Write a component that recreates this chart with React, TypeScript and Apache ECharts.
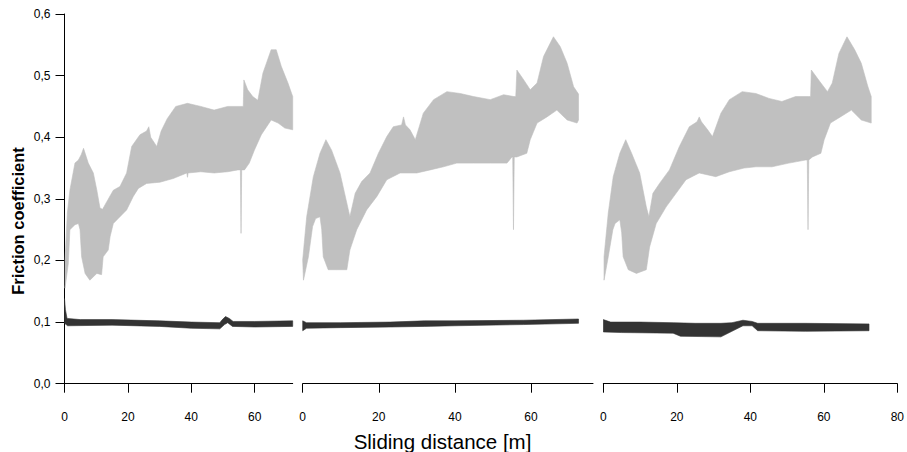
import React, { useEffect, useRef } from "react";
import * as echarts from "echarts";

const FONT = '"Liberation Sans", Arial, Helvetica, sans-serif';

// Axis ticks
const yTickValues = [0, 0.1, 0.2, 0.3, 0.4, 0.5, 0.6];
const xTicksP1 = [0, 20, 40, 60];
const xTicksP2 = [0, 20, 40, 60];
const xTicksP3 = [0, 20, 40, 60, 80];
const xMaxes = [72, 76.3, 80];

// Panel 1 – light grey band (upper / lower envelope)  [m, mu]
const grayUpper1 = [
  [0.16, 0.2], [0.9, 0.277], [1.7, 0.314], [3.3, 0.358], [4.4, 0.363], [5.3, 0.372], [6.0, 0.382],
  [7.5, 0.358], [9.1, 0.342], [10.2, 0.314], [11.2, 0.285], [12.0, 0.283], [13.3, 0.295], [15.4, 0.314],
  [17.5, 0.32], [19.6, 0.342], [21.2, 0.385], [23.8, 0.404], [25.9, 0.41], [26.6, 0.417], [27.2, 0.4],
  [29.1, 0.385], [30.5, 0.41], [32.4, 0.43], [35.1, 0.45], [38.8, 0.455], [43.0, 0.45], [47.2, 0.444],
  [51.5, 0.45], [55.7, 0.45], [56.4, 0.45], [56.6, 0.493], [57.8, 0.477], [59.4, 0.466], [61.0, 0.46],
  [62.6, 0.504], [65.2, 0.542], [66.8, 0.542], [68.4, 0.515], [70.5, 0.488], [72.0, 0.466],
];
const grayLower1 = [
  [0.16, 0.155], [1.2, 0.195], [1.7, 0.25], [3.3, 0.258], [4.4, 0.26], [4.9, 0.25], [5.4, 0.206],
  [6.5, 0.179], [8.0, 0.168], [10.2, 0.179], [11.7, 0.177], [12.2, 0.206], [13.8, 0.217], [14.4, 0.239],
  [15.4, 0.26], [17.5, 0.271], [19.6, 0.282], [21.7, 0.304], [23.3, 0.317], [25.9, 0.325], [30.1, 0.327],
  [34.3, 0.333], [38.6, 0.342], [38.8, 0.335], [39.0, 0.342], [43.0, 0.344], [47.2, 0.342], [51.5, 0.344],
  [54.7, 0.347], [55.5, 0.347], [55.7, 0.244], [55.9, 0.347], [56.8, 0.347], [58.3, 0.358], [59.9, 0.379],
  [62.1, 0.404], [65.2, 0.428], [67.4, 0.423], [69.5, 0.415], [72.0, 0.412],
];

// Panel 2 – light grey band
const grayUpper2 = [
  [0, 0.201], [1.05, 0.271], [2.8, 0.336], [4.55, 0.374], [6.1, 0.396], [7.6, 0.379], [9.8, 0.342],
  [11.6, 0.293], [12.4, 0.271], [13.8, 0.309], [15.5, 0.328], [17.7, 0.342], [19.9, 0.374], [22.1, 0.401],
  [23.8, 0.417], [26.0, 0.42], [26.5, 0.433], [27.0, 0.42], [28.2, 0.412], [29.6, 0.396], [31.7, 0.439],
  [34.4, 0.461], [37.9, 0.474], [41.4, 0.471], [44.9, 0.466], [49.3, 0.461], [52.8, 0.469], [55.5, 0.466],
  [56.0, 0.466], [56.3, 0.509], [58.1, 0.493], [59.8, 0.477], [61.6, 0.488], [63.3, 0.531], [65.9, 0.563],
  [67.7, 0.547], [69.5, 0.52], [71.2, 0.482], [72.5, 0.47],
];
const grayLower2 = [
  [0.2, 0.168], [1.5, 0.206], [2.6, 0.255], [3.4, 0.268], [4.55, 0.271], [5.0, 0.25], [5.4, 0.206],
  [6.7, 0.185], [8.9, 0.185], [11.6, 0.185], [12.4, 0.217], [14.2, 0.25], [16.8, 0.282], [19.5, 0.304],
  [22.1, 0.331], [25.6, 0.342], [30.0, 0.342], [33.5, 0.347], [37.0, 0.352], [40.5, 0.358], [44.9, 0.358],
  [49.3, 0.358], [53.7, 0.358], [55.0, 0.368], [55.2, 0.368], [55.4, 0.25], [55.6, 0.368], [56.3, 0.368],
  [58.9, 0.374], [59.8, 0.396], [61.6, 0.423], [64.2, 0.433], [66.8, 0.444], [69.5, 0.428], [72.1, 0.423],
  [72.5, 0.428],
];

// Panel 3 – light grey band
const grayUpper3 = [
  [0.2, 0.206], [1.35, 0.277], [2.7, 0.336], [4.5, 0.374], [6.1, 0.396], [7.7, 0.374], [9.9, 0.342],
  [11.7, 0.287], [12.4, 0.271], [13.5, 0.309], [15.3, 0.325], [18.0, 0.347], [20.7, 0.385], [23.4, 0.417],
  [25.5, 0.425], [26.1, 0.433], [26.7, 0.425], [28.4, 0.412], [29.7, 0.401], [32.0, 0.439], [34.3, 0.461],
  [37.8, 0.474], [41.5, 0.471], [45.1, 0.463], [48.6, 0.458], [52.3, 0.466], [55.9, 0.466], [56.4, 0.466],
  [56.6, 0.509], [59.2, 0.488], [61.0, 0.474], [62.3, 0.488], [64.1, 0.536], [66.3, 0.563], [68.4, 0.542],
  [70.2, 0.52], [72.0, 0.482], [72.9, 0.466],
];
const grayLower3 = [
  [0.2, 0.168], [1.35, 0.206], [2.6, 0.25], [3.2, 0.26], [4.5, 0.266], [5.0, 0.245], [5.4, 0.206],
  [6.8, 0.185], [9.0, 0.179], [11.7, 0.185], [12.6, 0.222], [14.4, 0.26], [17.1, 0.287], [19.8, 0.309],
  [22.5, 0.331], [26.1, 0.342], [30.6, 0.336], [34.3, 0.344], [38.3, 0.35], [41.5, 0.352], [45.9, 0.352],
  [50.5, 0.358], [55.0, 0.363], [55.5, 0.363], [55.7, 0.25], [55.9, 0.363], [56.9, 0.368], [59.2, 0.374],
  [60.1, 0.396], [61.8, 0.423], [64.5, 0.433], [67.5, 0.444], [70.2, 0.428], [72.9, 0.423],
];

// Dark bands (lubricated curves)
const darkUpper1 = [
  [0, 0.138], [0.3, 0.12], [0.8, 0.106], [5, 0.104], [15, 0.104], [30, 0.102], [40, 0.1], [49, 0.099],
  [49.8, 0.104], [50.8, 0.109], [52, 0.106], [53.2, 0.101], [60, 0.101], [72, 0.102],
];
const darkLower1 = [
  [0, 0.098], [1, 0.094], [15, 0.095], [30, 0.093], [40, 0.09], [49, 0.089], [50.5, 0.096], [51.5, 0.099],
  [53, 0.093], [60, 0.092], [72, 0.093],
];
const darkUpper2 = [
  [0, 0.102], [1, 0.099], [10, 0.099], [23, 0.1], [32, 0.102], [40, 0.102], [58, 0.103], [72.5, 0.105],
];
const darkLower2 = [
  [0, 0.086], [1, 0.09], [10, 0.091], [23, 0.092], [32, 0.093], [40, 0.094], [58, 0.096], [72.5, 0.098],
];
const darkUpper3 = [
  [0, 0.104], [2, 0.1], [10, 0.1], [19, 0.099], [25, 0.098], [32, 0.098], [35, 0.099], [38, 0.103],
  [40.5, 0.101], [42, 0.098], [55, 0.098], [72.3, 0.097],
];
const darkLower3 = [
  [0, 0.084], [5, 0.083], [19, 0.082], [21, 0.077], [32, 0.076], [35, 0.085], [38, 0.094], [40.5, 0.094],
  [42, 0.086], [55, 0.085], [72.3, 0.086],
];

const GRAY = "#c0c0c0";
const DARK = "#333333";

function band(gridIndex: number, upper: number[][], lower: number[][], color: string, z: number) {
  return {
    type: "custom",
    coordinateSystem: "cartesian2d",
    xAxisIndex: gridIndex,
    yAxisIndex: gridIndex,
    clip: true,
    silent: true,
    z,
    data: [[0, 0]],
    renderItem: (_params: any, api: any) => {
      const pts = upper
        .map((p) => api.coord(p))
        .concat(lower.slice().reverse().map((p) => api.coord(p)));
      return {
        type: "polygon",
        shape: { points: pts },
        style: { fill: color, stroke: color, lineWidth: 0.6 },
      };
    },
  };
}

export default function App() {
  const ref = useRef<HTMLDivElement>(null);
  useEffect(() => {
    if (!ref.current) return;
    const chart = echarts.init(ref.current, null, { renderer: "svg" });
    const gridTop = 14;
    const gridH = 369.7;
    const grids = [
      { left: 64.5, top: gridTop, width: 228.2, height: gridH },
      { left: 302.7, top: gridTop, width: 290.3, height: gridH },
      { left: 603.3, top: gridTop, width: 296, height: gridH },
    ];
    const xTickSets = [xTicksP1, xTicksP2, xTicksP3];
    const xAxes = grids.map((_, i) => ({
      type: "value",
      gridIndex: i,
      min: 0,
      max: xMaxes[i],
      axisLine: { show: true, onZero: false, lineStyle: { color: "#000", width: 1 } },
      axisTick: { show: true, inside: false, length: 9, customValues: xTickSets[i], lineStyle: { color: "#000", width: 1 } },
      axisLabel: { customValues: xTickSets[i], margin: 27, fontSize: 12, color: "#000", fontFamily: FONT },
      splitLine: { show: false },
    }));
    const yAxes = grids.map((_, i) =>
      i === 0
        ? {
            type: "value",
            gridIndex: 0,
            min: 0,
            max: 0.6,
            interval: 0.1,
            axisLine: { show: true, lineStyle: { color: "#000", width: 1 } },
            axisTick: { show: true, inside: false, length: 9, customValues: yTickValues, lineStyle: { color: "#000", width: 1 } },
            axisLabel: {
              customValues: yTickValues,
              margin: 14,
              fontSize: 12,
              color: "#000",
              fontFamily: FONT,
              formatter: (v: number) => v.toFixed(1).replace(".", ","),
            },
            splitLine: { show: false },
          }
        : { type: "value", gridIndex: i, min: 0, max: 0.6, show: false }
    );
    chart.setOption({
      animation: false,
      backgroundColor: "#fff",
      grid: grids,
      xAxis: xAxes,
      yAxis: yAxes,
      series: [
        band(0, grayUpper1, grayLower1, GRAY, 2),
        band(1, grayUpper2, grayLower2, GRAY, 2),
        band(2, grayUpper3, grayLower3, GRAY, 2),
        band(0, darkUpper1, darkLower1, DARK, 3),
        band(1, darkUpper2, darkLower2, DARK, 3),
        band(2, darkUpper3, darkLower3, DARK, 3),
      ],
      graphic: [
        {
          type: "text",
          x: 17.5,
          y: 221,
          rotation: Math.PI / 2,
          style: {
            text: "Friction coefficient",
            fontFamily: FONT,
            fontWeight: "bold",
            fontSize: 16.5,
            fill: "#000",
            align: "center",
            verticalAlign: "middle",
          },
        },
        {
          type: "text",
          x: 442.5,
          y: 441,
          style: {
            text: "Sliding distance [m]",
            fontFamily: FONT,
            fontSize: 20.5,
            fill: "#000",
            align: "center",
            verticalAlign: "middle",
          },
        },
      ],
    });
    return () => chart.dispose();
  }, []);
  return (
    <div
      ref={ref}
      style={{ position: "fixed", left: 0, top: 0, width: 907, height: 452, background: "#fff" }}
    />
  );
}
